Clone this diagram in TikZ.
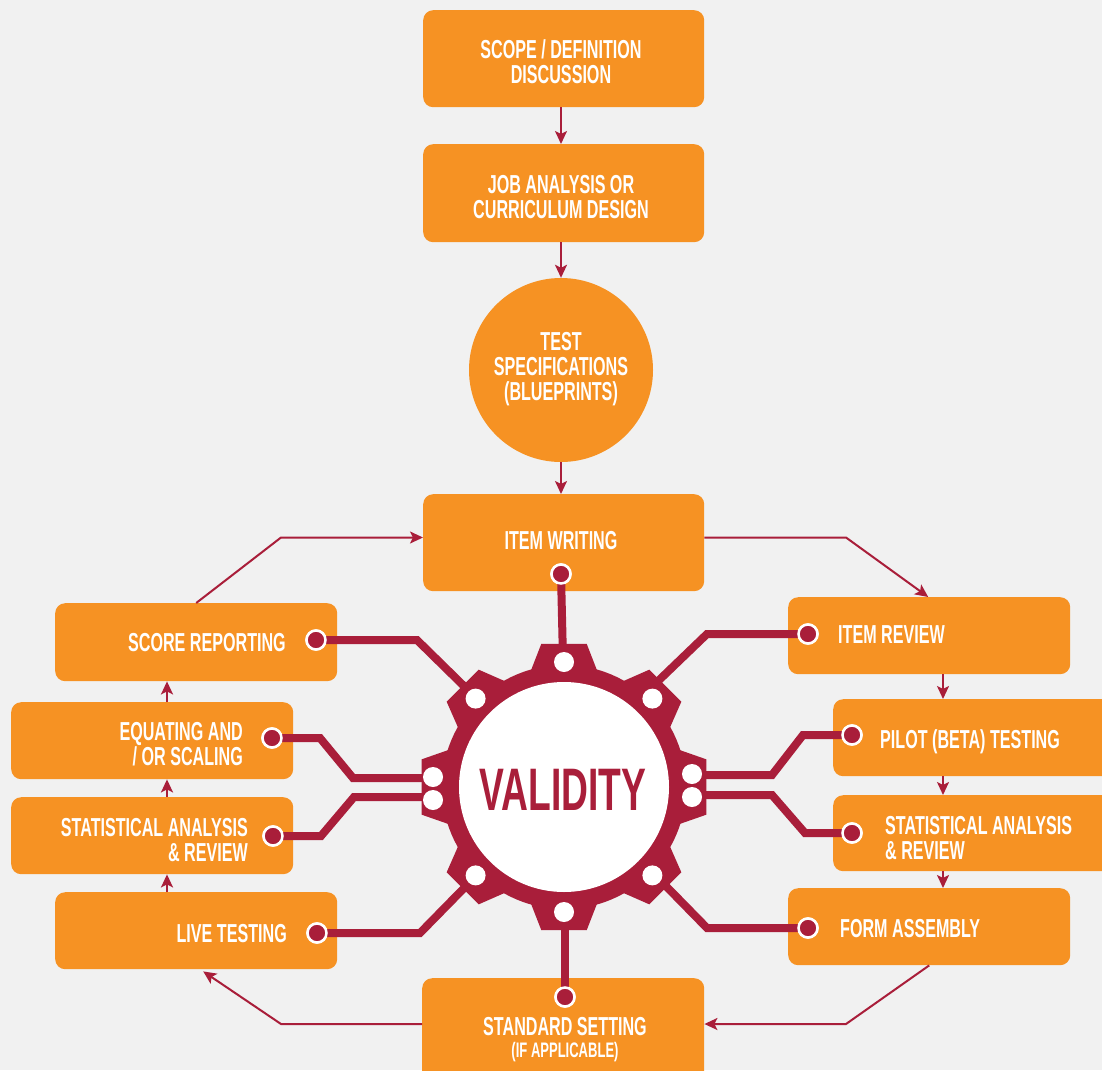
\documentclass[tikz,border=0pt]{standalone}
\usepackage{fontspec}
\setmainfont[FakeStretch=0.62]{Liberation Sans}
\usetikzlibrary{arrows.meta}
\definecolor{bg}{HTML}{F1F1F1}
\definecolor{org}{HTML}{F69223}
\definecolor{mar}{HTML}{A91E3A}
\begin{document}
\begin{tikzpicture}[x=1pt,y=-1pt,
  box/.style={fill=org, rounded corners=10pt, draw=none, inner sep=0pt, anchor=north west},
  lbl/.style={text=white, inner sep=0pt, font=\fontsize{26}{25}\selectfont\bfseries},
  flow/.style={draw=mar, line width=2pt, -{Stealth[length=13pt,width=12pt,inset=3pt]}},
  wire/.style={draw=mar, line width=8pt, line join=miter},
  dot/.style={circle, fill=mar, draw=white, line width=2.5pt, minimum size=19pt, inner sep=0pt}]
\clip (0,0) rectangle (1102,1070);
\fill[bg] (0,0) rectangle (1102,1070);

% boxes
\node[box, minimum width=281pt, minimum height=97pt] (scope) at (423,10) {};
\node[box, minimum width=281pt, minimum height=98pt] (job) at (423,144) {};
\node[circle, fill=org, minimum size=184pt, inner sep=0pt] (spec) at (561,370) {};
\node[box, minimum width=281pt, minimum height=97pt] (itemw) at (423,494) {};
\node[box, minimum width=282pt, minimum height=78pt] (score) at (55,603) {};
\node[box, minimum width=282pt, minimum height=77pt] (equ) at (11,702) {};
\node[box, minimum width=282pt, minimum height=77pt] (statl) at (11,797) {};
\node[box, minimum width=282pt, minimum height=77pt] (live) at (55,892) {};
\node[box, minimum width=282pt, minimum height=110pt] (std) at (422,978) {};
\node[box, minimum width=282pt, minimum height=77pt] (irev) at (788,597) {};
\node[box, minimum width=290pt, minimum height=77pt] (pilot) at (833,699) {};
\node[box, minimum width=290pt, minimum height=76pt] (statr) at (833,795) {};
\node[box, minimum width=282pt, minimum height=77pt] (form) at (788,888) {};

% labels
\node[lbl, align=center] (tscope) at (561,62) {SCOPE / DEFINITION\\DISCUSSION};
\node[lbl, align=center] (tjob) at (561,197) {JOB ANALYSIS OR\\CURRICULUM DESIGN};
\node[lbl, align=center] (tspec) at (561,369) {TEST\\SPECIFICATIONS\\(BLUEPRINTS)};
\node[lbl, anchor=base] (titemw) at (561,549) {ITEM WRITING};
\node[lbl, anchor=base east] (tscore) at (286,651) {SCORE REPORTING};
\node[lbl, align=right, anchor=east] (tequ) at (243,744) {EQUATING AND\\/ OR SCALING};
\node[lbl, align=right, anchor=east] (tstatl) at (248,840) {STATISTICAL ANALYSIS\\\& REVIEW};
\node[lbl, anchor=base east] (tlive) at (287,942) {LIVE TESTING};
\node[lbl, anchor=base] (tstdA) at (565,1035) {STANDARD SETTING};
\node[lbl, anchor=base, font=\fontsize{21}{21}\selectfont\bfseries] (tstdB) at (565,1057) {(IF APPLICABLE)};
\node[lbl, anchor=base west] (tirev) at (838,643) {ITEM REVIEW};
\node[lbl, anchor=base west] (tpilot) at (880,748) {PILOT (BETA) TESTING};
\node[lbl, align=left, anchor=west] (tstatr) at (885,838) {STATISTICAL ANALYSIS\\\& REVIEW};
\node[lbl, anchor=base west] (tform) at (840,937) {FORM ASSEMBLY};

% thin flow arrows
\coordinate (xl) at (167,0);
\coordinate (xm) at (561,0);
\coordinate (xr) at (943,0);
\coordinate (bTL) at (281,537.5);
\coordinate (bTR) at (846,537.5);
\coordinate (bBR) at (846,1024);
\coordinate (bBL) at (281,1024);
\draw[flow] (scope.south -| xm) -- (job.north -| xm);
\draw[flow] (job.south -| xm) -- (spec.north);
\draw[flow] (spec.south) -- (itemw.north -| xm);
\draw[flow] (itemw.east |- bTR) -- (bTR) -- ([xshift=-1pt]irev.north);
\draw[flow] (irev.south -| xr) -- (pilot.north -| xr);
\draw[flow] (pilot.south -| xr) -- (statr.north -| xr);
\draw[flow] (statr.south -| xr) -- (form.north -| xr);
\draw[flow] (form.south) -- (bBR) -- (std.east |- bBR);
\draw[flow] (std.west |- bBL) -- (bBL) -- ([xshift=7pt,yshift=-2pt]live.south);
\draw[flow] (live.north -| xl) -- (statl.south -| xl);
\draw[flow] (statl.north -| xl) -- (equ.south -| xl);
\draw[flow] (equ.north -| xl) -- (score.south -| xl);
\draw[flow] (score.north) -- (bTL) -- (itemw.west |- bTL);

% dots (nodes) and gear ports
\node[dot] (dW) at (561,574) {};
\node[dot] (dS) at (316,640) {};
\node[dot] (dE) at (272,738) {};
\node[dot] (dSL) at (273,836) {};
\node[dot] (dL) at (317,933) {};
\node[dot] (dStd) at (565,997) {};
\node[dot] (dIR) at (808,634) {};
\node[dot] (dP) at (852,735) {};
\node[dot] (dSR) at (852,833) {};
\node[dot] (dF) at (808,928) {};
\coordinate (gT) at (563,660);
\coordinate (gTL) at (470,692);
\coordinate (gL1) at (440,778);
\coordinate (gL2) at (440,797);
\coordinate (gBL) at (470,882);
\coordinate (gB) at (565,910);
\coordinate (gTR) at (655,684);
\coordinate (gR1) at (690,775);
\coordinate (gR2) at (690,795);
\coordinate (gBR) at (660,880);

% wires
\draw[wire] (dW.center) -- (gT);
\draw[wire] (dS.center) -- (417,640) -- (gTL);
\draw[wire] (dE.center) -- (320,738) -- (353,778) -- (gL1);
\draw[wire] (dSL.center) -- (321,836) -- (354,797) -- (gL2);
\draw[wire] (dL.center) -- (420,933) -- (gBL);
\draw[wire] (dStd.center) -- (gB);
\draw[wire] (dIR.center) -- (707,634) -- (gTR);
\draw[wire] (dP.center) -- (803,735) -- (772,775) -- (gR1);
\draw[wire] (dSR.center) -- (805,833) -- (772,795) -- (gR2);
\draw[wire] (dF.center) -- (707,928) -- (gBR);

% gear
\begin{scope}[shift={(564,787)}]
  \fill[mar] (0,0) circle (122);
  \foreach \a/\b/\t in {0/19/11,45/17/9,90/17/9,135/17/9,180/19/11,225/17/9,270/17/9,315/17/9}
    \fill[mar] (\a-\b:118) -- (\a-\t:145) -- (\a+\t:145) -- (\a+\b:118) -- cycle;
  \foreach \a in {45,90,135,225,270,315}
    \fill[white] (\a:125) circle (10);
  \fill[white] (-131,-10) circle (10);
  \fill[white] (-131,13) circle (10);
  \fill[white] (128,-13) circle (10);
  \fill[white] (128,10) circle (10);
\end{scope}
\node[circle, fill=white, minimum size=210pt, inner sep=0pt] (val) at (564,787) {};
\node[text=mar, inner sep=0pt, anchor=base, font=\fontsize{60}{60}\selectfont\bfseries] (tval) at (563,810) {VALIDITY};

% redraw dots on top
\foreach \d in {dW,dS,dE,dSL,dL,dStd,dIR,dP,dSR,dF}
  \node[dot] at (\d) {};
\end{tikzpicture}
\end{document}
